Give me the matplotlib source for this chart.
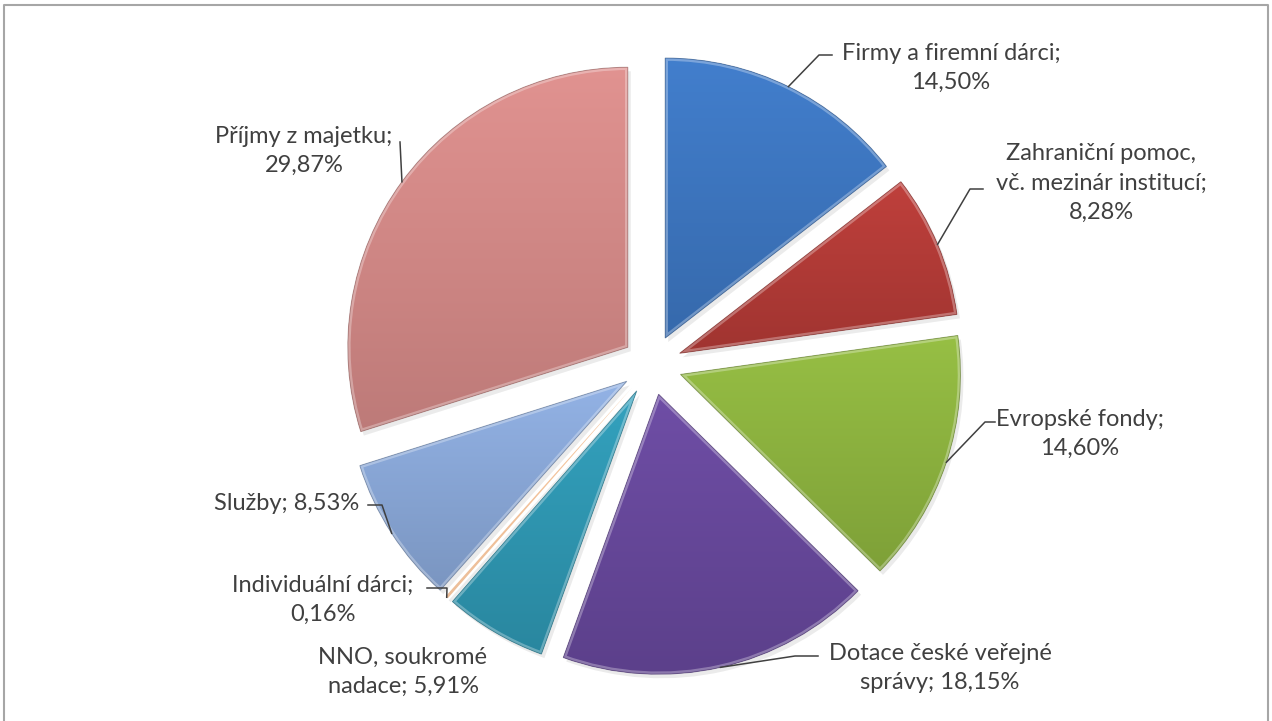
import matplotlib
matplotlib.use('Agg')
import matplotlib.pyplot as plt
import matplotlib.colors as mcolors
import matplotlib.patches as mpatches
import numpy as np

W, H = 1272, 721

# data
categories = ['Firmy a firemní dárci', 'Zahraniční pomoc,\nvč. mezinár institucí',
              'Evropské fondy', 'Dotace české veřejné\nsprávy', 'NNO, soukromé\nnadace',
              'Individuální dárci', 'Služby', 'Příjmy z majetku']
shares = [14.50, 8.28, 14.60, 18.15, 5.91, 0.16, 8.53, 29.87]
label_texts = ['Firmy a firemní dárci;\n14,50%',
               'Zahraniční pomoc,\nvč. mezinár institucí;\n8,28%',
               'Evropské fondy;\n14,60%',
               'Dotace české veřejné\nsprávy; 18,15%',
               'NNO, soukromé\nnadace; 5,91%',
               'Individuální dárci;\n0,16%',
               'Služby; 8,53%',
               'Příjmy z majetku;\n29,87%']
colors = ['#3C75BF', '#B23A36', '#8CB23E', '#66479A', '#2E96B1', '#E8893C', '#88A6D6', '#D28886']

# layout (pixels, y measured from top)
cx, cy = 652, 365
R = 280
EXPL = 30
label_pos = [(951, 68), (1101, 183), (1080, 434), (940, 668), (403, 672),
             (323, 600), (287, 503), (304, 151)]
elbows = [(819, 55), (970, 189), (985, 422), (795, 656), None, (447, 588), (382, 505), (400, 142)]
tails = [832, 983, 995, 818, None, 427, 368, None]

plt.rcParams['font.family'] = ['Lato', 'DejaVu Sans']

fig = plt.figure(figsize=(W / 100, H / 100), dpi=100)
ax = fig.add_axes([0, 0, 1, 1])

wedges, _ = ax.pie(shares, colors=colors, startangle=90, counterclock=False,
                   radius=R, center=(cx, H - cy), explode=[EXPL] * len(shares),
                   wedgeprops=dict(linewidth=0), frame=True)

# soft shadow + gradient + bevel for each wedge
for w, c, v in zip(wedges, colors, shares):
    sh = mpatches.Wedge((w.center[0] + 3, w.center[1] - 4), w.r, w.theta1, w.theta2,
                        facecolor='#000000', alpha=0.08, linewidth=0, zorder=0.5)
    ax.add_patch(sh)
    w.set_zorder(1)
    base = np.array(mcolors.to_rgb(c))
    top = np.clip(base * 1.06 + 0.01, 0, 1)
    bot = np.clip(base * 0.90, 0, 1)
    t = np.linspace(0, 1, 256)[:, None]
    grad = (top[None, :] * (1 - t) + bot[None, :] * t)[:, None, :]
    ext = w.get_path().get_extents(w.get_patch_transform())
    x0, y0, x1, y1 = ext.x0, ext.y0, ext.x1, ext.y1
    im = ax.imshow(grad, extent=(x0, x1, y0, y1), origin='upper', aspect='auto',
                   zorder=1.2, interpolation='bilinear')
    im.set_clip_path(w)
    if v < 1:
        # tiny slice: bevel swallows it, keep only a faint fill
        w.set_alpha(0.3)
        im.set_alpha(0.3)
        continue
    hl = mpatches.Wedge(w.center, w.r, w.theta1, w.theta2, facecolor='none',
                        edgecolor='white', alpha=0.3, linewidth=4, zorder=1.4)
    ax.add_patch(hl)
    hl.set_clip_path(w)
    dk = mpatches.Wedge(w.center, w.r, w.theta1, w.theta2, facecolor='none',
                        edgecolor=tuple(base * 0.6), alpha=0.5, linewidth=0.7, zorder=1.5)
    ax.add_patch(dk)

# labels with leader lines
for w, txt, (lx, ly), el, tx in zip(wedges, label_texts, label_pos, elbows, tails):
    ax.text(lx, H - ly, txt, ha='center', va='center', fontsize=17,
            color='#404040', linespacing=1.5, zorder=3)
    if el is None:
        continue
    tm = np.deg2rad((w.theta1 + w.theta2) / 2)
    axp = w.center[0] + w.r * np.cos(tm)
    ayp = w.center[1] + w.r * np.sin(tm)
    xs = [axp, el[0]]
    ys = [ayp, H - el[1]]
    if tx is not None:
        xs.append(tx)
        ys.append(H - el[1])
    ax.plot(xs, ys, color='#404040', linewidth=1.1, zorder=2.5)

# chart frame
ax.plot([4, 4, 1268, 1268], [-5, H - 5, H - 5, -5], color='#a6a6a6', linewidth=1.5, zorder=4)

ax.set_xlim(0, W)
ax.set_ylim(0, H)
ax.set_aspect('auto')
ax.axis('off')

fig.savefig('out.png', dpi=100, facecolor='white')
